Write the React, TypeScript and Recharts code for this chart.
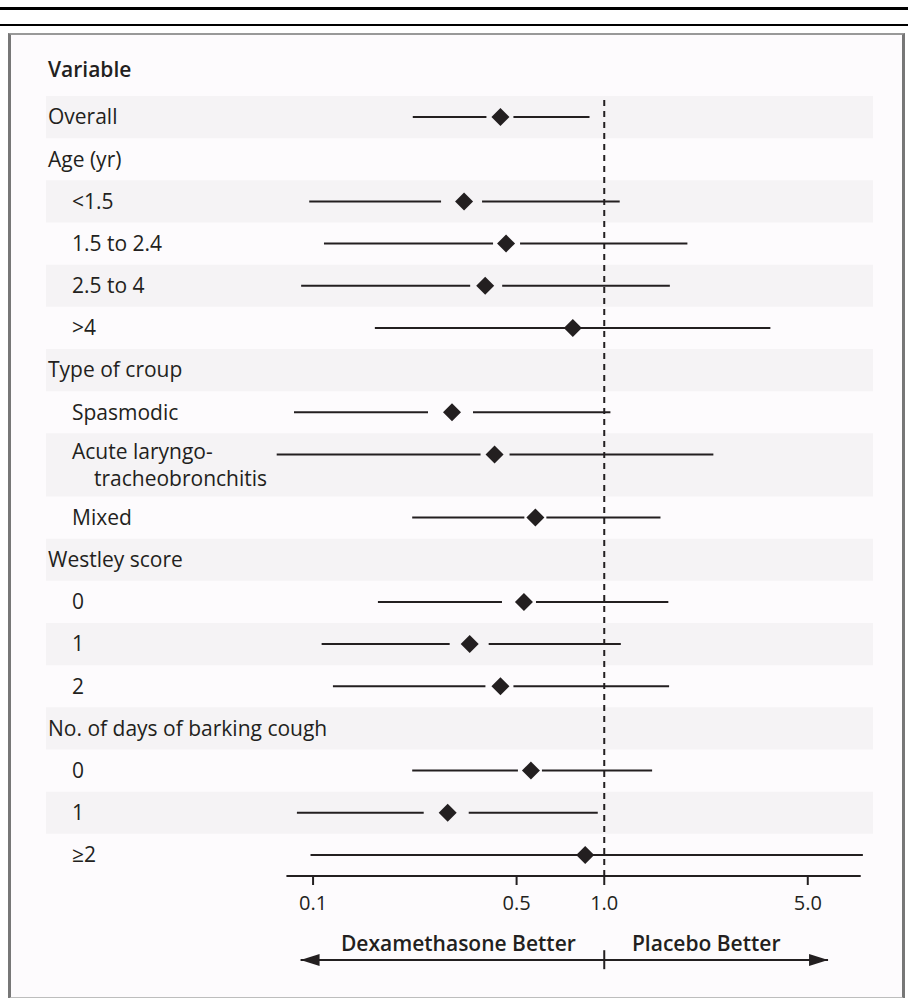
import React from 'react';
import {
  ScatterChart,
  Scatter,
  XAxis,
  YAxis,
  ErrorBar,
  ReferenceArea,
  ReferenceLine,
  ReferenceDot,
} from 'recharts';

// rows of the forest plot, top to bottom
const variables = [
  'Overall',
  'Age (yr)',
  '<1.5',
  '1.5 to 2.4',
  '2.5 to 4',
  '>4',
  'Type of croup',
  'Spasmodic',
  'Acute laryngo-\ntracheobronchitis',
  'Mixed',
  'Westley score',
  '0',
  '1',
  '2',
  'No. of days of barking cough',
  '0',
  '1',
  '≥2',
];
const isGroup = [true, true, false, false, false, false, true, false, false, false, true, false, false, false, true, false, false, false];

// odds ratio and 95% CI
const estimate = [0.44, null, 0.33, 0.46, 0.39, 0.78, null, 0.3, 0.42, 0.58, null, 0.53, 0.345, 0.44, null, 0.56, 0.29, 0.86];
const lower = [0.22, null, 0.097, 0.109, 0.091, 0.163, null, 0.086, 0.075, 0.219, null, 0.167, 0.107, 0.117, null, 0.219, 0.088, 0.098];
const upper = [0.89, null, 1.13, 1.93, 1.68, 3.72, null, 1.05, 2.37, 1.56, null, 1.66, 1.14, 1.67, null, 1.46, 0.95, 7.73];

const xTicks = [0.1, 0.5, 1, 5];
const xTickLabels = ['0.1', '0.5', '1.0', '5.0'];

// look
const INK = '#231f20';
const PANEL = '#fdfbfd';
const STRIPE = '#f5f3f5';
const FONT = '"Open Sans", "Noto Sans", sans-serif';
const LEFT = 45;
// white gap (px) left/right of each diamond where the CI line is broken
const lineGap: ([number, number] | null)[] = [
  [14, 13], null, [23, 18], [13, 14], [15, 17], null, null, [24, 21], [14, 15], [11, 11],
  null, [22, 12], [20, 19], [15, 13], null, [13, 11], [24, 21], null,
];

// row layout in y units (a two-line label takes 1.5 rows)
let cursor = 0;
const rows = variables.map((label, i) => {
  const lines = label.split('\n');
  const span = lines.length > 1 ? 1.5 : 1;
  const row = { i, lines, top: cursor, span, center: cursor + span / 2, markY: cursor + 0.5 };
  cursor += span;
  return row;
});
const yMax = cursor;

const points = rows
  .filter((r) => estimate[r.i] != null)
  .map((r) => ({
    i: r.i,
    y: r.markY,
    est: estimate[r.i] as number,
    err: [(estimate[r.i] as number) - (lower[r.i] as number), (upper[r.i] as number) - (estimate[r.i] as number)],
  }));

const Diamond = (props: any) => {
  const { cx, cy, payload } = props;
  const gap = lineGap[payload.i];
  const bg = payload.i % 2 === 0 ? STRIPE : PANEL;
  return (
    <g>
      {gap && <rect x={cx - gap[0]} y={cy - 3} width={gap[0] + gap[1]} height={6} fill={bg} />}
      <polygon points={`${cx},${cy - 9} ${cx + 9},${cy} ${cx},${cy + 9} ${cx - 9},${cy}`} fill={INK} />
    </g>
  );
};

const renderRowTick = (props: any) => {
  const { y, payload } = props;
  const row = rows.find((r) => Math.abs(r.center - Number(payload?.value)) < 1e-6);
  if (!row) return <g />;
  const x0 = LEFT + 3 + (isGroup[row.i] ? 0 : 24);
  const style = { fontFamily: FONT, fontSize: 21, fill: INK };
  if (row.lines.length === 1) {
    return (
      <text x={x0} y={y} dy="0.35em" textAnchor="start" style={style}>
        {row.lines[0]}
      </text>
    );
  }
  return (
    <text textAnchor="start" style={style}>
      <tspan x={x0} y={y - 13.5} dy="0.35em">{row.lines[0]}</tspan>
      <tspan x={x0 + 22} y={y + 13.5} dy="0.35em">{row.lines[1]}</tspan>
    </text>
  );
};

const arrowHead = (dir: number) => (p: any) => (
  <polygon
    points={`${p.cx},${p.cy} ${p.cx + dir * 19},${p.cy - 6} ${p.cx + dir * 19},${p.cy + 6}`}
    fill={INK}
  />
);

const caption = (text: string) => (p: any) => (
  <text x={p.cx} y={p.cy} dy="0.35em" textAnchor="middle" style={{ fontFamily: FONT, fontSize: 21, fontWeight: 600, fill: INK }}>
    {text}
  </text>
);

export default function App() {
  return (
    <div style={{ position: 'absolute', left: 0, top: 0, width: 908, height: 998, background: '#fff' }}>
      <div style={{ position: 'absolute', left: 0, top: 7, width: 908, height: 3, background: '#000' }} />
      <div style={{ position: 'absolute', left: 0, top: 24, width: 908, height: 2, background: '#000' }} />
      <div
        style={{
          position: 'absolute',
          left: 8,
          top: 33,
          width: 891,
          height: 962,
          background: PANEL,
          borderLeft: '3px solid #777',
          borderRight: '3px solid #777',
          borderTop: '2px solid #999',
          borderBottom: '2px solid #bdbdbd',
        }}
      />
      <div
        style={{
          position: 'absolute',
          left: 48,
          top: 59,
          fontFamily: FONT,
          fontSize: 21,
          fontWeight: 600,
          lineHeight: 1,
          color: INK,
        }}
      >
        Variable
      </div>
      <div style={{ position: 'absolute', left: 0, top: 0 }}>
        <ScatterChart width={908} height={998} margin={{ top: 96, right: 35, bottom: 0, left: LEFT }}>
          {rows
            .filter((r) => r.i % 2 === 0)
            .map((r) => (
              <ReferenceArea key={`s${r.i}`} y1={r.top} y2={r.top + r.span} fill={STRIPE} fillOpacity={1} stroke="none" />
            ))}
          <XAxis
            type="number"
            dataKey="est"
            scale="log"
            domain={[0.0121, 8.375]}
            allowDataOverflow
            ticks={xTicks}
            interval={0}
            tickFormatter={(v: number) => xTickLabels[xTicks.indexOf(v)] ?? String(v)}
            axisLine={false}
            tickLine={{ stroke: INK, strokeWidth: 2 }}
            tickSize={9}
            tickMargin={11}
            height={122}
            tick={{ fill: INK, fontSize: 20, fontFamily: FONT }}
          />
          <YAxis
            type="number"
            dataKey="y"
            domain={[0, yMax]}
            allowDataOverflow
            reversed
            width={1}
            ticks={rows.map((r) => r.center)}
            interval={0}
            axisLine={false}
            tickLine={false}
            tick={renderRowTick}
          />
          <ReferenceLine x={1} stroke={INK} strokeWidth={2} strokeDasharray="6 5" />
          <ReferenceLine
            segment={[{ x: 0.081, y: yMax }, { x: 7.6, y: yMax }]}
            stroke={INK}
            strokeWidth={2}
            ifOverflow="visible"
          />
          <Scatter data={points} shape={<Diamond />} isAnimationActive={false}>
            <ErrorBar dataKey="err" direction="x" width={0} stroke={INK} strokeWidth={2} isAnimationActive={false} />
          </Scatter>
          {/* favours annotation under the axis */}
          <ReferenceLine
            segment={[{ x: 0.0906, y: 20.49 }, { x: 5.87, y: 20.49 }]}
            stroke={INK}
            strokeWidth={2}
            ifOverflow="visible"
          />
          <ReferenceLine
            segment={[{ x: 1, y: 20.26 }, { x: 1, y: 20.71 }]}
            stroke={INK}
            strokeWidth={2}
            ifOverflow="visible"
          />
          <ReferenceDot x={0.0906} y={20.49} ifOverflow="visible" shape={arrowHead(1)} />
          <ReferenceDot x={5.87} y={20.49} ifOverflow="visible" shape={arrowHead(-1)} />
          <ReferenceDot x={0.3155} y={20.11} ifOverflow="visible" shape={caption('Dexamethasone Better')} />
          <ReferenceDot x={2.24} y={20.11} ifOverflow="visible" shape={caption('Placebo Better')} />
        </ScatterChart>
      </div>
    </div>
  );
}
